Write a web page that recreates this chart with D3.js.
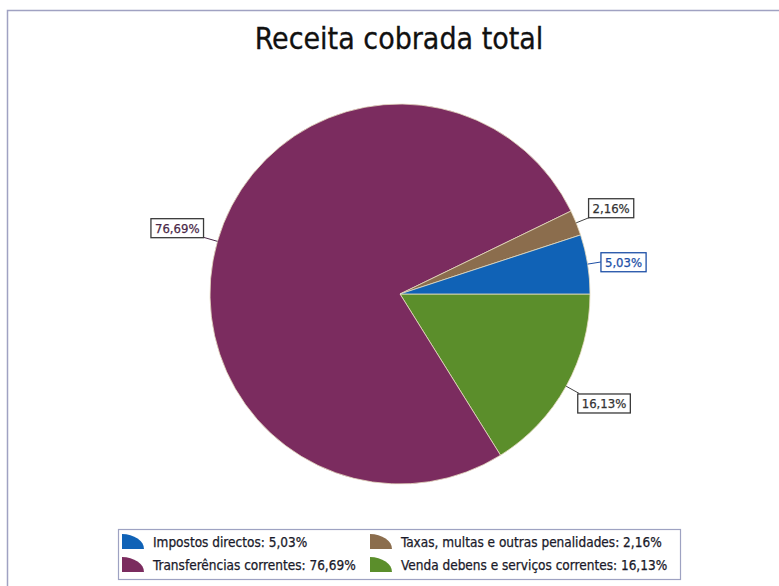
<!DOCTYPE html>
<html>
<head>
<meta charset="utf-8">
<script src="https://cdn.jsdelivr.net/npm/d3@7"></script>
<style>
    body { margin: 0; background: #fff; }
    svg { display: block; }
    text { font-family: "DejaVu Sans Condensed", "DejaVu Sans", sans-serif; }
</style>
</head>
<body>
<script>
const width = 779,
      height = 586,
      radius = 190;

const title = "Receita cobrada total";
const categories = ["Impostos directos", "Taxas, multas e outras penalidades", "Transferências correntes", "Venda de bens e serviços correntes"];
const legendNames = ["Impostos directos", "Taxas, multas e outras penalidades", "Transferências correntes", "Venda debens e serviços correntes"];
const values = [5.03, 2.16, 76.69, 16.13];
const valueLabels = ["5,03%", "2,16%", "76,69%", "16,13%"];
const colors = ["#1062b6", "#8b6d4d", "#7b2c5f", "#5b8e2b"];
const labelInk = ["#1d4fa6", "#333333", "#4a2848", "#333333"];

// drawing order clockwise from 3 o'clock: Venda, Transferencias, Taxas, Impostos
const drawOrder = [3, 2, 1, 0];

function createPieChart() {
    let svg = d3.select("body")
        .append("svg")
        .attr("width", width)
        .attr("height", height);

    // outer frame, runs off the right and bottom of the picture
    svg.append("rect")
        .attr("x", 7.5)
        .attr("y", 10.5)
        .attr("width", width + 20)
        .attr("height", height + 20)
        .attr("fill", "none")
        .attr("stroke", "#a0a2c2")
        .attr("stroke-width", 1.5);

    svg.append("text")
        .attr("x", 399)
        .attr("y", 49)
        .attr("text-anchor", "middle")
        .style("font-size", "30px")
        .style("fill", "#111")
        .style("stroke", "#111")
        .style("stroke-width", 0.3)
        .text(title);

    let cx = 400, cy = 294;
    let g = svg.append("g").attr("transform", "translate(" + cx + "," + cy + ")");

    let pieData = drawOrder.map(function (i) { return {i: i, value: values[i]}; });
    let pie = d3.pie()
        .sort(null)
        .value(function (d) { return d.value; })
        .startAngle(Math.PI / 2)
        .endAngle(Math.PI / 2 + 2 * Math.PI);
    let arcs = pie(pieData);

    let arc = d3.arc().innerRadius(0).outerRadius(radius);

    g.selectAll(".slice")
        .data(arcs)
        .enter()
        .append("path")
        .attr("class", "slice")
        .attr("d", arc)
        .attr("fill", function (d) { return colors[d.data.i]; })
        .attr("stroke", "#e6dcc0")
        .attr("stroke-width", 0.8);

    // labels with leader lines
    arcs.forEach(function (d) {
        let a = (d.startAngle + d.endAngle) / 2;
        let p0 = [radius * Math.sin(a), -radius * Math.cos(a)];
        let p1 = [(radius + 15) * Math.sin(a), -(radius + 15) * Math.cos(a)];
        let i = d.data.i;

        g.append("line")
            .attr("x1", p0[0]).attr("y1", p0[1])
            .attr("x2", p1[0]).attr("y2", p1[1])
            .attr("stroke", labelInk[i] === "#333333" ? "#444" : labelInk[i])
            .attr("stroke-width", 1);

        let lbl = g.append("g");
        let t = lbl.append("text")
            .style("font-size", "13px")
            .style("fill", labelInk[i])
            .style("stroke", labelInk[i])
            .style("stroke-width", 0.25)
            .attr("dominant-baseline", "central")
            .text(valueLabels[i]);
        let w = t.node().getComputedTextLength() + 8,
            h = 19;
        let bx = p1[0] >= 0 ? p1[0] - 2 : p1[0] - w;
        let by;
        if (p1[1] < -40) by = p1[1] - h;
        else if (p1[1] > 40) by = p1[1];
        else by = p1[1] - h / 2;
        lbl.insert("rect", "text")
            .attr("x", bx + 0.5)
            .attr("y", by + 0.5)
            .attr("width", w)
            .attr("height", h)
            .attr("fill", "#fff")
            .attr("stroke", i === 0 ? labelInk[i] : "#3a3a3a")
            .attr("stroke-width", 1.3);
        t.attr("x", bx + 4.5).attr("y", by + h / 2 + 1);
    });

    // legend
    let legend = svg.append("g").attr("class", "legend");
    legend.append("rect")
        .attr("x", 118.5)
        .attr("y", 529.5)
        .attr("width", 562)
        .attr("height", 50)
        .attr("fill", "#fff")
        .attr("stroke", "#9ea2c2")
        .attr("stroke-width", 1.2);

    let colX = [122, 370],
        rowY = [549, 572];
    let icon = function (w, h) {
        return "M0,0 L0," + (-h) + " A" + w + "," + h + " 0 0,1 " + w + ",0 Z";
    };

    categories.forEach(function (c, i) {
        let item = legend.append("g")
            .attr("transform", "translate(" + colX[i % 2] + "," + rowY[Math.floor(i / 2)] + ")");
        item.append("path")
            .attr("d", icon(22, 15))
            .attr("fill", colors[i]);
        item.append("text")
            .attr("x", 31)
            .attr("y", -2)
            .style("font-size", "13.5px")
            .style("fill", "#1a1a2a")
            .style("stroke", "#1a1a2a")
            .style("stroke-width", 0.25)
            .text(legendNames[i] + ": " + valueLabels[i]);
    });
}

createPieChart();
</script>
</body>
</html>
